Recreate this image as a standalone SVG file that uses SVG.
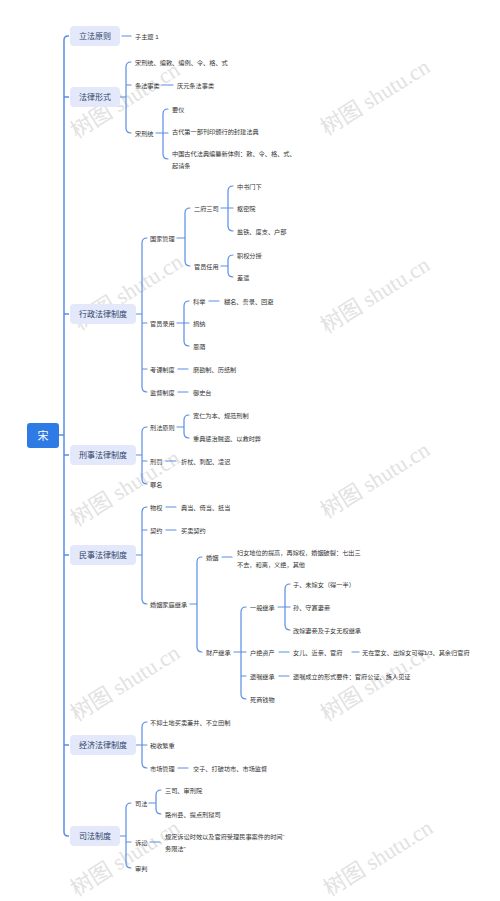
<svg xmlns="http://www.w3.org/2000/svg" width="500" height="901" viewBox="0 0 500 901">
<style>
.wm{font-family:"Liberation Serif","Noto Sans CJK SC",serif;font-size:22px;fill:#e2e2e2;text-anchor:middle;dominant-baseline:central}
.c{fill:none;stroke:#5a8de6;stroke-width:1.2;stroke-linecap:round}
.tr{fill:none;stroke:#5a8de6;stroke-width:1.5}
.b1{fill:#e3e9fb}
.t1{font-family:"Liberation Sans","Noto Sans CJK SC",sans-serif;font-size:8px;fill:#2e3f66;text-anchor:middle;dominant-baseline:central}
.t{font-family:"Liberation Sans","Noto Sans CJK SC",sans-serif;font-size:6.2px;fill:#333;dominant-baseline:central}
.rt{font-family:"Liberation Sans","Noto Sans CJK SC",sans-serif;font-size:11px;fill:#fff;text-anchor:middle;dominant-baseline:central}
</style>
<rect width="500" height="901" fill="#fff"/>
<g id="watermarks">
<text class="wm" transform="translate(125,100) rotate(-32)">树图 shutu.cn</text>
<text class="wm" transform="translate(375,97) rotate(-32)">树图 shutu.cn</text>
<text class="wm" transform="translate(128,292) rotate(-32)">树图 shutu.cn</text>
<text class="wm" transform="translate(375,295) rotate(-32)">树图 shutu.cn</text>
<text class="wm" transform="translate(125,488) rotate(-32)">树图 shutu.cn</text>
<text class="wm" transform="translate(375,480) rotate(-32)">树图 shutu.cn</text>
<text class="wm" transform="translate(125,683) rotate(-32)">树图 shutu.cn</text>
<text class="wm" transform="translate(375,683) rotate(-32)">树图 shutu.cn</text>
<text class="wm" transform="translate(125,858) rotate(-32)">树图 shutu.cn</text>
<text class="wm" transform="translate(378,858) rotate(-32)">树图 shutu.cn</text>
</g>
<g id="connectors">
<path class="tr" d="M59 435H64 M69 36H68Q64 36 64 40V832Q64 836 68 836H69 M64 97H69 M64 314H69 M64 455H69 M64 555H69 M64 745H69"/>
<path class="c" d="M122 36H131"/>
<path class="c" d="M120 97H126 M131 62Q126 62 126 67V128Q126 133 131 133 M126 85H131 M162 85H173"/>
<path class="c" d="M156 133H168 M168 109Q163 109 163 114V154Q163 159 168 159"/>
<path class="c" d="M136 314H142 M147 238Q142 238 142 243V387Q142 392 147 392 M142 323H147 M142 369H147"/>
<path class="c" d="M177 238H185 M190 208Q185 208 185 213V261Q185 266 190 266"/>
<path class="c" d="M221 208H233 M233 186Q228 186 228 191V226Q228 231 233 231"/>
<path class="c" d="M221 266H228 M233 255Q228 255 228 260V272Q228 277 233 277"/>
<path class="c" d="M177 323H189 M189 301Q184 301 184 306V341Q184 346 189 346 M209 301H219 M178 369H188 M178 392H188"/>
<path class="c" d="M136 455H142 M147 427Q142 427 142 432V479Q142 484 147 484 M142 461H147"/>
<path class="c" d="M177 427H184 M189 415Q184 415 184 420V433Q184 438 189 438 M166 461H176"/>
<path class="c" d="M136 555H142 M147 507Q142 507 142 512V599Q142 604 147 604 M142 530H147 M166 507H176 M166 530H176"/>
<path class="c" d="M190 604H197 M202 557Q197 557 197 562V647Q197 652 202 652 M222 557H232"/>
<path class="c" d="M234 652H246 M246 607Q241 607 241 612V694Q241 699 246 699 M241 676H246"/>
<path class="c" d="M278 607H290 M290 584Q285 584 285 589V625Q285 630 290 630 M279 652H289 M352 652H359 M279 676H289"/>
<path class="c" d="M136 745H147 M147 722Q142 722 142 727V763Q142 768 147 768 M178 768H188"/>
<path class="c" d="M120 836H126 M131 803Q126 803 126 808V863Q126 868 131 868 M126 842H131"/>
<path class="c" d="M149 803H156 M161 790Q156 790 156 795V809Q156 814 161 814 M150 842H160"/>
</g>
<g id="root"><rect x="27" y="423" width="32" height="25" rx="3" fill="#2f7be5"/><text class="rt" x="43" y="435.5">宋</text></g>
<g id="n-lifa"><rect class="b1" x="70" y="26" width="50" height="20" rx="4"/><text class="t1" x="95" y="36">立法原则</text></g>
<g id="n-lifa-1"><text class="t" x="135" y="36">子主题 1</text></g>
<g id="n-xingshi"><rect class="b1" x="70" y="87" width="50" height="20" rx="4"/><text class="t1" x="95" y="97">法律形式</text></g>
<g id="n-xs-1"><text class="t" x="135" y="62">宋刑统、编敕、编例、令、格、式</text></g>
<g id="n-xs-2"><text class="t" x="135" y="85">条法事类</text></g>
<g id="n-xs-2a"><text class="t" x="177" y="85">庆元条法事类</text></g>
<g id="n-xs-3"><text class="t" x="135" y="133">宋刑统</text></g>
<g id="n-xs-3a"><text class="t" x="172" y="109">要仪</text></g>
<g id="n-xs-3b"><text class="t" x="172" y="131">古代第一部刊印颁行的封建法典</text></g>
<g id="n-xs-3c"><text class="t" x="172" y="153">中国古代法典编纂新体例：敕、令、格、式、</text><text class="t" x="172" y="165">起请条</text></g>
<g id="n-xingzheng"><rect class="b1" x="70" y="304" width="66" height="20" rx="4"/><text class="t1" x="103" y="314">行政法律制度</text></g>
<g id="n-xz-1"><text class="t" x="150" y="238">国家管理</text></g>
<g id="n-xz-1a"><text class="t" x="194" y="208">二府三司</text></g>
<g id="n-xz-1a1"><text class="t" x="237" y="186">中书门下</text></g>
<g id="n-xz-1a2"><text class="t" x="237" y="208">枢密院</text></g>
<g id="n-xz-1a3"><text class="t" x="237" y="231">盐铁、度支、户部</text></g>
<g id="n-xz-1b"><text class="t" x="194" y="266">官员任用</text></g>
<g id="n-xz-1b1"><text class="t" x="237" y="255">职权分授</text></g>
<g id="n-xz-1b2"><text class="t" x="237" y="277">差遣</text></g>
<g id="n-xz-2"><text class="t" x="150" y="323">官员录用</text></g>
<g id="n-xz-2a"><text class="t" x="193" y="301">科举</text></g>
<g id="n-xz-2a1"><text class="t" x="224" y="301">糊名、誊录、回避</text></g>
<g id="n-xz-2b"><text class="t" x="193" y="323">捐纳</text></g>
<g id="n-xz-2c"><text class="t" x="193" y="346">恩荫</text></g>
<g id="n-xz-3"><text class="t" x="150" y="369">考课制度</text></g>
<g id="n-xz-3a"><text class="t" x="193" y="369">磨勘制、历纸制</text></g>
<g id="n-xz-4"><text class="t" x="150" y="392">监督制度</text></g>
<g id="n-xz-4a"><text class="t" x="193" y="392">御史台</text></g>
<g id="n-xingfa"><rect class="b1" x="70" y="445" width="66" height="20" rx="4"/><text class="t1" x="103" y="455">刑事法律制度</text></g>
<g id="n-xf-1"><text class="t" x="150" y="427">刑法原则</text></g>
<g id="n-xf-1a"><text class="t" x="193" y="415">宽仁为本、规范刑制</text></g>
<g id="n-xf-1b"><text class="t" x="193" y="438">重典惩治贼盗、以救时弊</text></g>
<g id="n-xf-2"><text class="t" x="150" y="461">刑罚</text></g>
<g id="n-xf-2a"><text class="t" x="181" y="461">折杖、刺配、凌迟</text></g>
<g id="n-xf-3"><text class="t" x="150" y="484">罪名</text></g>
<g id="n-minshi"><rect class="b1" x="70" y="545" width="66" height="20" rx="4"/><text class="t1" x="103" y="555">民事法律制度</text></g>
<g id="n-ms-1"><text class="t" x="150" y="507">物权</text></g>
<g id="n-ms-1a"><text class="t" x="181" y="507">典当、倚当、抵当</text></g>
<g id="n-ms-2"><text class="t" x="150" y="530">契约</text></g>
<g id="n-ms-2a"><text class="t" x="181" y="530">买卖契约</text></g>
<g id="n-ms-3"><text class="t" x="150" y="604">婚姻家庭继承</text></g>
<g id="n-ms-3a"><text class="t" x="206" y="557">婚姻</text></g>
<g id="n-ms-3a1"><text class="t" x="237" y="552">妇女地位的提高，再嫁权，婚姻破裂：七出三</text><text class="t" x="237" y="564">不去，和离，义绝，其他</text></g>
<g id="n-ms-3b"><text class="t" x="206" y="652">财产继承</text></g>
<g id="n-ms-3b1"><text class="t" x="250" y="607">一般继承</text></g>
<g id="n-ms-3b1a"><text class="t" x="293" y="584">子、未嫁女（得一半）</text></g>
<g id="n-ms-3b1b"><text class="t" x="293" y="607">孙、守寡妻妾</text></g>
<g id="n-ms-3b1c"><text class="t" x="293" y="630">改嫁妻妾及子女无权继承</text></g>
<g id="n-ms-3b2"><text class="t" x="250" y="652">户绝资产</text></g>
<g id="n-ms-3b2a"><text class="t" x="293" y="652">女儿、近亲、官府</text></g>
<g id="n-ms-3b2b"><text class="t" x="362" y="652">无在室女、出嫁女可得1/3、其余归官府</text></g>
<g id="n-ms-3b3"><text class="t" x="250" y="676">遗嘱继承</text></g>
<g id="n-ms-3b3a"><text class="t" x="293" y="676">遗嘱成立的形式要件：官府公证、族人见证</text></g>
<g id="n-ms-3b4"><text class="t" x="250" y="699">死商钱物</text></g>
<g id="n-jingji"><rect class="b1" x="70" y="735" width="66" height="20" rx="4"/><text class="t1" x="103" y="745">经济法律制度</text></g>
<g id="n-jj-1"><text class="t" x="150" y="722">不抑土地买卖兼并、不立田制</text></g>
<g id="n-jj-2"><text class="t" x="150" y="745">税收繁重</text></g>
<g id="n-jj-3"><text class="t" x="150" y="768">市场管理</text></g>
<g id="n-jj-3a"><text class="t" x="193" y="768">交子、打破坊市、市场监督</text></g>
<g id="n-sifa"><rect class="b1" x="70" y="826" width="50" height="20" rx="4"/><text class="t1" x="95" y="836">司法制度</text></g>
<g id="n-sf-1"><text class="t" x="135" y="803">司法</text></g>
<g id="n-sf-1a"><text class="t" x="165" y="790">三司、审刑院</text></g>
<g id="n-sf-1b"><text class="t" x="165" y="814">路州县、提点刑狱司</text></g>
<g id="n-sf-2"><text class="t" x="135" y="842">诉讼</text></g>
<g id="n-sf-2a"><text class="t" x="165" y="836">规定诉讼时效以及官府受理民事案件的时间“</text><text class="t" x="165" y="848">务限法”</text></g>
<g id="n-sf-3"><text class="t" x="135" y="868">审判</text></g>
</svg>
